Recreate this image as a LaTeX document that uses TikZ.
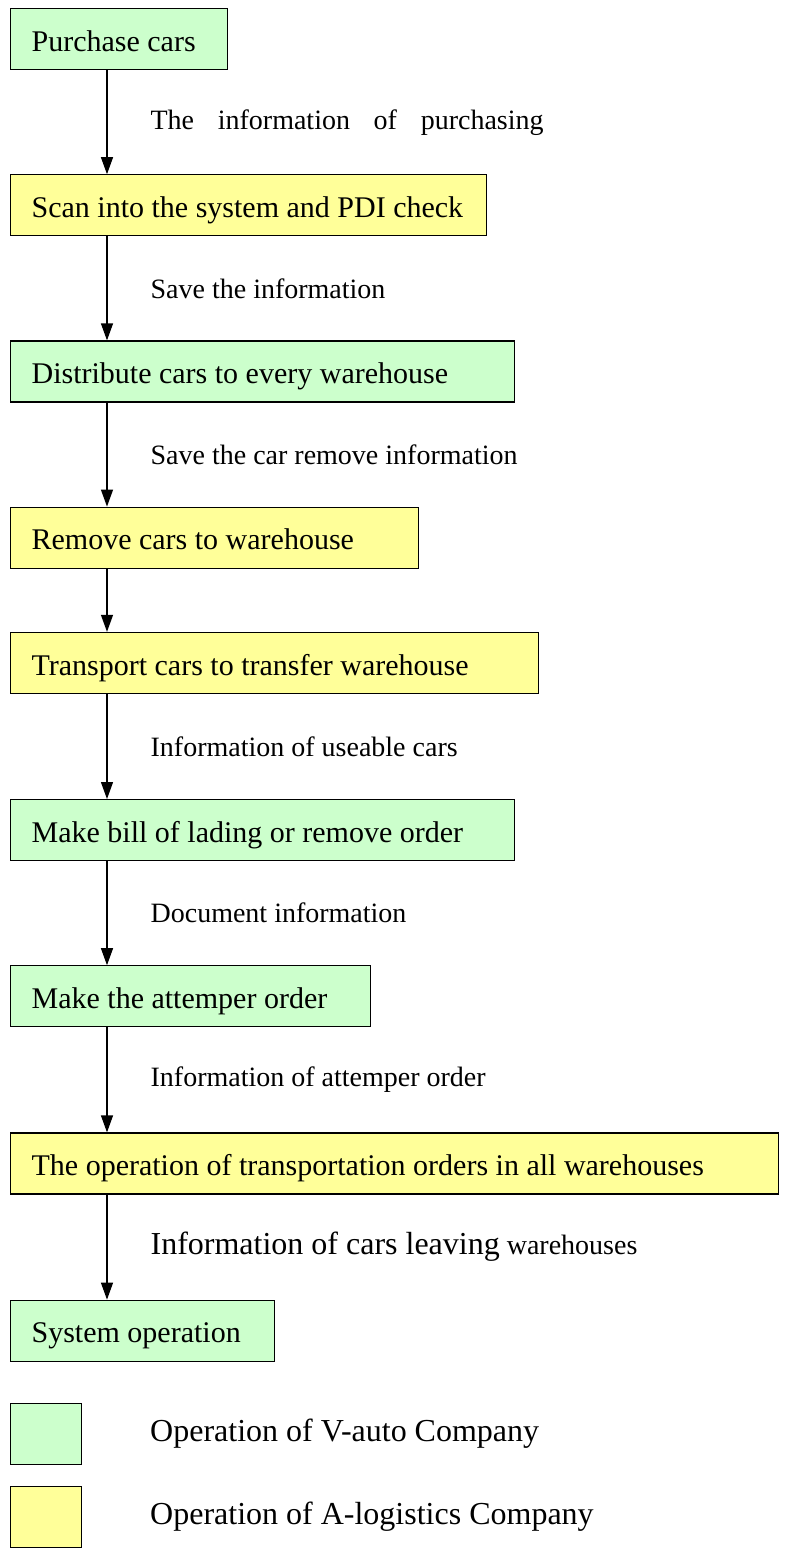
\documentclass[tikz,border=0pt]{standalone}
\usepackage{fontspec}
\setmainfont{Liberation Serif}
\usetikzlibrary{positioning,arrows.meta,calc}
\definecolor{vgreen}{HTML}{CCFFCC}
\definecolor{ayellow}{HTML}{FFFF99}
\tikzset{main node/.style={rectangle,draw,line width=1.2pt,minimum
height=61pt,inner xsep=21pt,inner ysep=0pt,align=flush left,text height=26pt,
text depth=1.5pt,font=\fontsize{30}{36}\selectfont},
green node/.style={main node,fill=vgreen,text width=#1},
yellow node/.style={main node,fill=ayellow,text width=#1},
key node/.style={rectangle,draw,line width=1.2pt,minimum width=71pt,minimum height=61pt,inner sep=0pt},
label node/.style={right,inner sep=0pt,xshift=43pt,font=\fontsize{28}{32}\selectfont},
flow/.style={draw,line width=1.2pt,-{Triangle[length=17pt,width=12pt]}}}

\begin{document}
\begin{tikzpicture}[x=1pt,y=1pt]
    \useasboundingbox (0,0) rectangle (784,-1549);
    \coordinate (ax) at (107,0);

    \node[green node=175pt,anchor=north west] (1) at (10,-8) {Purchase cars};
    \node[yellow node=434pt,below=104pt of 1.south west,anchor=north west] (2) {Scan into the system and PDI check};
    \node[green node=462pt,below=104pt of 2.south west,anchor=north west] (3) {Distribute cars to every warehouse};
    \node[yellow node=366pt,below=104pt of 3.south west,anchor=north west] (4) {Remove cars to warehouse};
    \node[yellow node=486pt,below=63pt of 4.south west,anchor=north west] (5) {Transport cars to transfer warehouse};
    \node[green node=462pt,below=105pt of 5.south west,anchor=north west] (6) {Make bill of lading or remove order};
    \node[green node=318pt,below=104pt of 6.south west,anchor=north west] (7) {Make the attemper order};
    \node[yellow node=726pt,below=105pt of 7.south west,anchor=north west] (8) {The operation of transportation orders in all warehouses};
    \node[green node=222pt,below=105pt of 8.south west,anchor=north west] (9) {System operation};

    \path[flow] (1.south -| ax) -- node[label node]
        {\makebox[393pt][s]{The information of purchasing}} (2.north -| ax);
    \path[flow] (2.south -| ax) -- node[label node] {Save the information} (3.north -| ax);
    \path[flow] (3.south -| ax) -- node[label node] {Save the car remove information} (4.north -| ax);
    \path[flow] (4.south -| ax) -- (5.north -| ax);
    \path[flow] (5.south -| ax) -- node[label node] {Information of useable cars} (6.north -| ax);
    \path[flow] (6.south -| ax) -- node[label node] {Document information} (7.north -| ax);
    \path[flow] (7.south -| ax) -- node[label node] {Information of attemper order} (8.north -| ax);
    \path[flow] (8.south -| ax) -- node[label node]
        {{\fontsize{32}{36}\selectfont Information of cars leaving} warehouses} (9.north -| ax);

    % legend
    \node[key node,fill=vgreen,below=41pt of 9.south west,anchor=north west] (g) {};
    \node[key node,fill=ayellow,below=21pt of g.south west,anchor=north west] (y) {};
    \node[label node,font=\fontsize{32}{36}\selectfont,xshift=97pt] (gg) at (g.west) {Operation of V-auto Company};
    \node[label node,font=\fontsize{32}{36}\selectfont,xshift=97pt] (yy) at (y.west) {Operation of A-logistics Company};
\end{tikzpicture}
\end{document}
